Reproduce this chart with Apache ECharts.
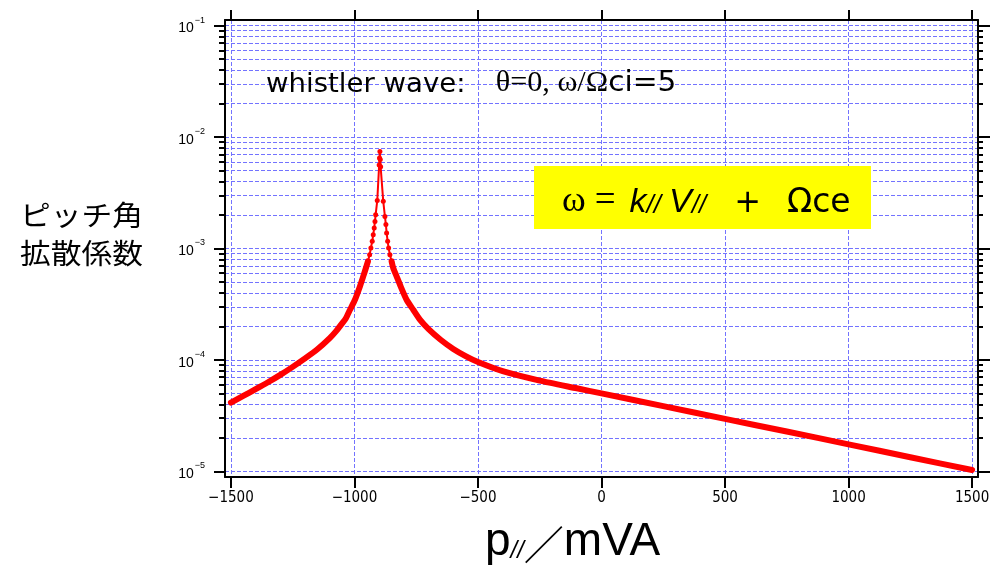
<!DOCTYPE html>
<html><head><meta charset="utf-8">
<script src="https://cdn.jsdelivr.net/npm/echarts@6/dist/echarts.min.js"></script>
<style>html,body{margin:0;padding:0;background:#fff}#c{width:991px;height:565px}</style>
</head><body><div id="c"></div>
<script>
// ---- data ----
const xTickValues = [-1500, -1000, -500, 0, 500, 1000, 1500];
const yDecades = [1e-5, 1e-4, 1e-3, 1e-2, 1e-1];
const yMantissas = [1, 2, 3, 4, 5, 6, 7, 8, 9];

// left branch (dense points that merge into a thick line)
const leftX = [-1500, -1450, -1400, -1350, -1300, -1250, -1200, -1150, -1100, -1075, -1050, -1034.5, -1018, -998, -977.9, -964.5, -953.6, -945.5];
const leftY = [4.15e-5, 4.76e-5, 5.47e-5, 6.31e-5, 7.35e-5, 8.67e-5, 1.033e-4, 1.247e-4, 1.57e-4, 1.803e-4, 2.128e-4, 2.37e-4, 2.82e-4, 3.47e-4, 4.57e-4, 5.62e-4, 6.68e-4, 7.66e-4];

// resonance peak (individually visible points)
const peakX = [-945.5, -938.6, -933.4, -928, -924, -920, -917, -914.2, -907.7,
  -900, -898.5, -897, -895.5, -894,
  -883.4, -876.7, -872.7, -869.8, -865.6, -861.7, -856.4, -849.6];
const peakY = [7.66e-4, 8.8e-4, 1.01e-3, 1.16e-3, 1.33e-3, 1.53e-3, 1.75e-3, 2.01e-3, 2.69e-3,
  5.6e-3, 6.5e-3, 7.4e-3, 6.3e-3, 5.4e-3,
  2.65e-3, 1.94e-3, 1.64e-3, 1.38e-3, 1.16e-3, 1.01e-3, 8.8e-4, 7.66e-4];

// right branch
const rightX = [-849.6, -843, -829.4, -813, -789, -762, -735, -700, -650, -600, -550, -500, -400, -250, -100, 0, 250, 500, 750, 1000, 1250, 1500];
const rightY = [7.66e-4, 6.68e-4, 5.62e-4, 4.57e-4, 3.47e-4, 2.82e-4, 2.30e-4, 1.89e-4, 1.51e-4, 1.256e-4, 1.084e-4, 9.59e-5, 7.94e-5, 6.53e-5, 5.57e-5, 5.01e-5, 3.85e-5, 2.96e-5, 2.28e-5, 1.75e-5, 1.34e-5, 1.03e-5];

// ---- build ----
const zip = (xs, ys) => xs.map((x, i) => [x, ys[i]]);
const yAllTicks = [];
yDecades.forEach((d, i) => {
  if (i < yDecades.length - 1) yMantissas.forEach(m => yAllTicks.push(m * d));
  else yAllTicks.push(d);
});
const Y_MIN = Math.pow(10, -5.05), Y_MAX = Math.pow(10, -0.95);
const X_MIN = -1524, X_MAX = 1524;
const RED = '#ff0000';
const GRIDC = '#7373ff';
const NARROW = "'Liberation Sans Narrow', 'DejaVu Sans Condensed', sans-serif";
const SANS = "'Liberation Sans', sans-serif";
const SERIF = "'Liberation Serif', serif";
const DEJA = "'DejaVu Sans', sans-serif";

const chart = echarts.init(document.getElementById('c'), null, {renderer: 'canvas'});

const yBase = {type: 'log', logBase: 10, min: Y_MIN, max: Y_MAX, gridIndex: 0};

const option = {
  animation: false,
  backgroundColor: '#fff',
  grid: {left: 225, right: 13, top: 20, bottom: 88, containLabel: false, outerBoundsMode: 'none'},
  xAxis: [
    {
      type: 'value', min: X_MIN, max: X_MAX, position: 'bottom',
      axisLine: {show: true, onZero: false, lineStyle: {color: '#000', width: 2}},
      axisTick: {show: true, customValues: xTickValues, length: 11, lineStyle: {color: '#000', width: 2}},
      axisLabel: {
        customValues: xTickValues, margin: 14, fontSize: 15, fontFamily: NARROW, color: '#000',
        formatter: v => (v < 0 ? '\u2212' + Math.abs(v) : String(v))
      },
      splitLine: {show: true, lineStyle: {color: GRIDC, type: [4, 2], width: 1}},
      name: '{p|p}{s|//}{sl|\uFF0F}{m|mVA}',
      nameLocation: 'middle', nameGap: 40,
      nameTextStyle: {
        rich: {
          p: {fontSize: 46, fontFamily: SANS, color: '#000', verticalAlign: 'bottom', lineHeight: 48},
          s: {fontSize: 24, fontStyle: 'italic', fontFamily: SANS, color: '#000', verticalAlign: 'bottom', lineHeight: 48, padding: [0, 0, 2, 0]},
          sl: {fontSize: 40, fontFamily: "'Noto Sans CJK JP', sans-serif", color: '#000', verticalAlign: 'bottom', lineHeight: 48},
          m: {fontSize: 46, fontFamily: SANS, color: '#000', verticalAlign: 'bottom', lineHeight: 48, padding: [0, 58, 0, 0]}
        }
      }
    },
    {
      type: 'value', min: X_MIN, max: X_MAX, position: 'top', gridIndex: 0,
      axisLine: {show: true, onZero: false, lineStyle: {color: '#000', width: 2}},
      axisTick: {show: true, customValues: xTickValues, length: 10, lineStyle: {color: '#000', width: 2}},
      axisLabel: {show: false},
      splitLine: {show: false}
    }
  ],
  yAxis: [
    Object.assign({}, yBase, {
      position: 'left',
      axisLine: {show: true, onZero: false, lineStyle: {color: '#000', width: 2}},
      axisTick: {show: true, customValues: yAllTicks, length: 6, lineStyle: {color: '#000', width: 2}},
      axisLabel: {
        customValues: yDecades, margin: 20, color: '#000',
        formatter: v => '{b|10}{s|\u2212' + Math.round(-Math.log10(v)) + '}',
        rich: {
          b: {fontSize: 14, fontFamily: SANS, color: '#000', lineHeight: 20, verticalAlign: 'bottom'},
          s: {fontSize: 9, fontFamily: SANS, color: '#000', lineHeight: 20, verticalAlign: 'top', padding: [0, 0, 0, 1]}
        }
      },
      splitLine: {show: true, lineStyle: {color: GRIDC, type: [4, 2], width: 1}},
      minorTick: {show: false}, minorSplitLine: {show: false}
    }),
    Object.assign({}, yBase, {
      position: 'left',
      axisLine: {show: false, onZero: false},
      axisTick: {show: true, customValues: yDecades, length: 11, lineStyle: {color: '#000', width: 2}},
      axisLabel: {show: false}, splitLine: {show: false}
    }),
    Object.assign({}, yBase, {
      position: 'right',
      axisLine: {show: true, onZero: false, lineStyle: {color: '#000', width: 2}},
      axisTick: {show: true, customValues: yAllTicks, length: 5, lineStyle: {color: '#000', width: 2}},
      axisLabel: {show: false}, splitLine: {show: false}
    }),
    Object.assign({}, yBase, {
      position: 'right',
      axisLine: {show: false, onZero: false},
      axisTick: {show: true, customValues: yDecades, length: 12, lineStyle: {color: '#000', width: 2}},
      axisLabel: {show: false}, splitLine: {show: false}
    })
  ],
  series: [
    {
      type: 'line', xAxisIndex: 0, yAxisIndex: 0, data: zip(leftX, leftY),
      showSymbol: false, smooth: 0.2,
      lineStyle: {color: RED, width: 6, cap: 'round', join: 'round'}, z: 5
    },
    {
      type: 'line', xAxisIndex: 0, yAxisIndex: 0, data: zip(peakX, peakY),
      symbol: 'circle', symbolSize: 5, showAllSymbol: true,
      itemStyle: {color: RED}, lineStyle: {color: RED, width: 2}, z: 5
    },
    {
      type: 'line', xAxisIndex: 0, yAxisIndex: 0, data: zip(rightX, rightY),
      showSymbol: false, smooth: 0.2,
      lineStyle: {color: RED, width: 6, cap: 'round', join: 'round'}, z: 5
    }
  ],
  graphic: [
    {
      type: 'text', x: 20, y: 196, z: 100, scaleX: 1.08,
      style: {
        text: 'ピッチ角\n拡散係数', fontSize: 28.5, lineHeight: 38,
        fontFamily: "'Noto Sans CJK JP', sans-serif", fill: '#000'
      }
    },
    {
      type: 'text', x: 266, y: 64, z: 100, scaleX: 1.06,
      style: {
        text: '{a|whistler wave:}{g|    θ=0, ω/Ω}{c|ci=5}',
        rich: {
          a: {fontSize: 26, fontFamily: DEJA, fill: '#000', lineHeight: 34, verticalAlign: 'bottom'},
          g: {fontSize: 28.5, fontFamily: SERIF, fill: '#000', lineHeight: 34, verticalAlign: 'bottom'},
          c: {fontSize: 28, fontFamily: DEJA, fill: '#000', lineHeight: 34, verticalAlign: 'bottom'}
        }
      }
    },
    {
      type: 'rect', z: 90,
      shape: {x: 534, y: 166, width: 337, height: 63},
      style: {fill: '#ffff00'}
    },
    {
      type: 'text', z: 100, x: 562, y: 200,
      style: {
        text: '{w|ω}{eq|=}{k|k}{sub|//}{v|V}{sub|//}{pl|+}{o|Ω}{ce|ce}',
        align: 'left', verticalAlign: 'middle',
        rich: {
          w: {fontSize: 36, fontFamily: SERIF, fill: '#000', lineHeight: 40, verticalAlign: 'bottom', padding: [0, 9, 0, 0]},
          eq: {fontSize: 37, fontFamily: SERIF, fill: '#000', lineHeight: 40, verticalAlign: 'bottom', padding: [0, 14, 0, 0]},
          k: {fontSize: 34, fontStyle: 'italic', fontFamily: SANS, fill: '#000', lineHeight: 40, verticalAlign: 'bottom'},
          v: {fontSize: 34, fontStyle: 'italic', fontFamily: SANS, fill: '#000', lineHeight: 40, verticalAlign: 'bottom', padding: [0, 0, 0, 8]},
          sub: {fontSize: 26, fontStyle: 'italic', fontFamily: SANS, fill: '#000', lineHeight: 40, verticalAlign: 'bottom', padding: [0, 0, 1, 0]},
          pl: {fontSize: 32, fontFamily: DEJA, fill: '#000', lineHeight: 40, verticalAlign: 'bottom', padding: [0, 26, 0, 28]},
          o: {fontSize: 33, fontFamily: DEJA, fill: '#000', lineHeight: 40, verticalAlign: 'bottom'},
          ce: {fontSize: 33, fontFamily: DEJA, fill: '#000', lineHeight: 40, verticalAlign: 'bottom'}
        }
      }
    }
  ]
};
chart.setOption(option);
</script>
</body></html>
